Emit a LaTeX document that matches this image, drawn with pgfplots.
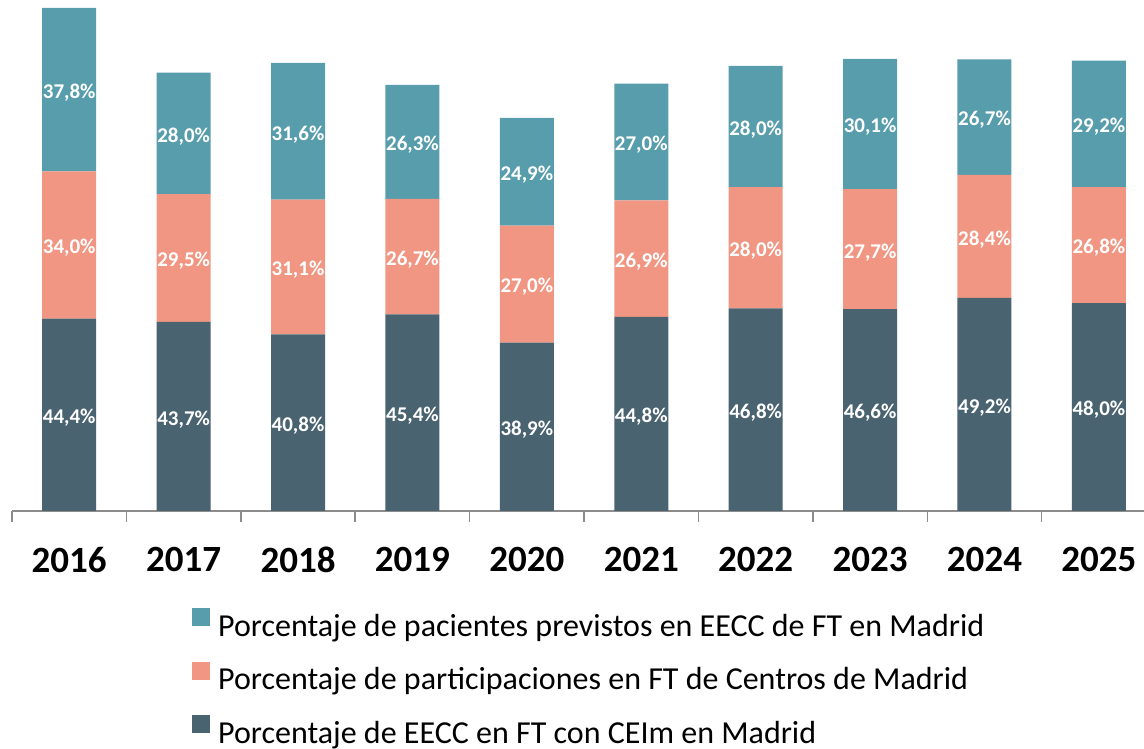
\documentclass[border=0pt]{standalone}
\usepackage{fontspec}
\setmainfont{Carlito}
\usepackage{pgfplots}
\usepackage{pgfplotstable}
\pgfplotsset{compat=1.18}
\definecolor{cEecc}{HTML}{4A6370}
\definecolor{cPart}{HTML}{F09682}
\definecolor{cPac}{HTML}{579DAC}
\definecolor{axgray}{HTML}{8C8C8C}

\pgfplotstableread{
x year eecc part pac
0 2016 44.4 34.0 37.8
1 2017 43.7 29.5 28.0
2 2018 40.8 31.1 31.6
3 2019 45.4 26.7 26.3
4 2020 38.9 27.0 24.9
5 2021 44.8 26.9 27.0
6 2022 46.8 28.0 28.0
7 2023 46.6 27.7 30.1
8 2024 49.2 28.4 26.7
9 2025 48.0 26.8 29.2
}\datos

\pgfplotsset{
 lbl/.style={
  visualization depends on={\thisrow{#1} \as \val},
  nodes near coords={\pgfmathprintnumber[fixed,fixed zerofill,precision=1,use comma,assume math mode=true]{\val}\%},
  every node near coord/.append style={anchor=center,yshift=-3pt,
   font=\fontsize{21}{24}\selectfont\bfseries,text=white,inner sep=0pt}}
}

\begin{document}
\begin{tikzpicture}[x=1pt,y=1pt]
\path[use as bounding box] (0,0) rectangle (1144,749);
\begin{axis}[at={(12pt,238pt)},anchor=south west,
 scale only axis,width=1131.5pt,height=511pt,
 ybar stacked,bar width=54pt,
 xmin=-0.5,xmax=9.39,ymin=0,ymax=118,
 axis x line=bottom,axis y line=none,
 x axis line style={-,draw=axgray,line width=1.5pt},
 xtick={0,...,9},xticklabels={2016,2017,2018,2019,2020,2021,2022,2023,2024,2025},
 major tick length=0pt,
 minor xtick={-0.5,0.5,...,9.5},minor tick length=11pt,
 tick align=outside,
 every tick/.style={draw=axgray,line width=1.5pt},
 xticklabel style={font=\fontsize{37}{40}\selectfont\bfseries,anchor=north,inner sep=0pt},
 xticklabel shift=36pt,
 reverse legend,
 legend cell align=left,
 legend image code/.code={\fill[#1] (0pt,0pt) rectangle (18pt,18pt);},
 legend style={at={(0.159,-0.189)},anchor=north west,draw=none,fill=none,
  font=\fontsize{32}{36}\selectfont,inner sep=0pt,row sep=24pt,column sep=8pt,
  nodes={inner sep=0pt}},
]
\addplot[fill=cEecc,draw=none,lbl=eecc] table[x=x,y=eecc]{\datos};
\addplot[fill=cPart,draw=none,lbl=part] table[x=x,y=part]{\datos};
\addplot[fill=cPac,draw=none,lbl=pac] table[x=x,y=pac]{\datos};
\legend{Porcentaje de EECC en FT con CEIm en Madrid,
 Porcentaje de participaciones en FT de Centros de Madrid,
 Porcentaje de pacientes previstos en EECC de FT en Madrid}
\end{axis}
\end{tikzpicture}
\end{document}
